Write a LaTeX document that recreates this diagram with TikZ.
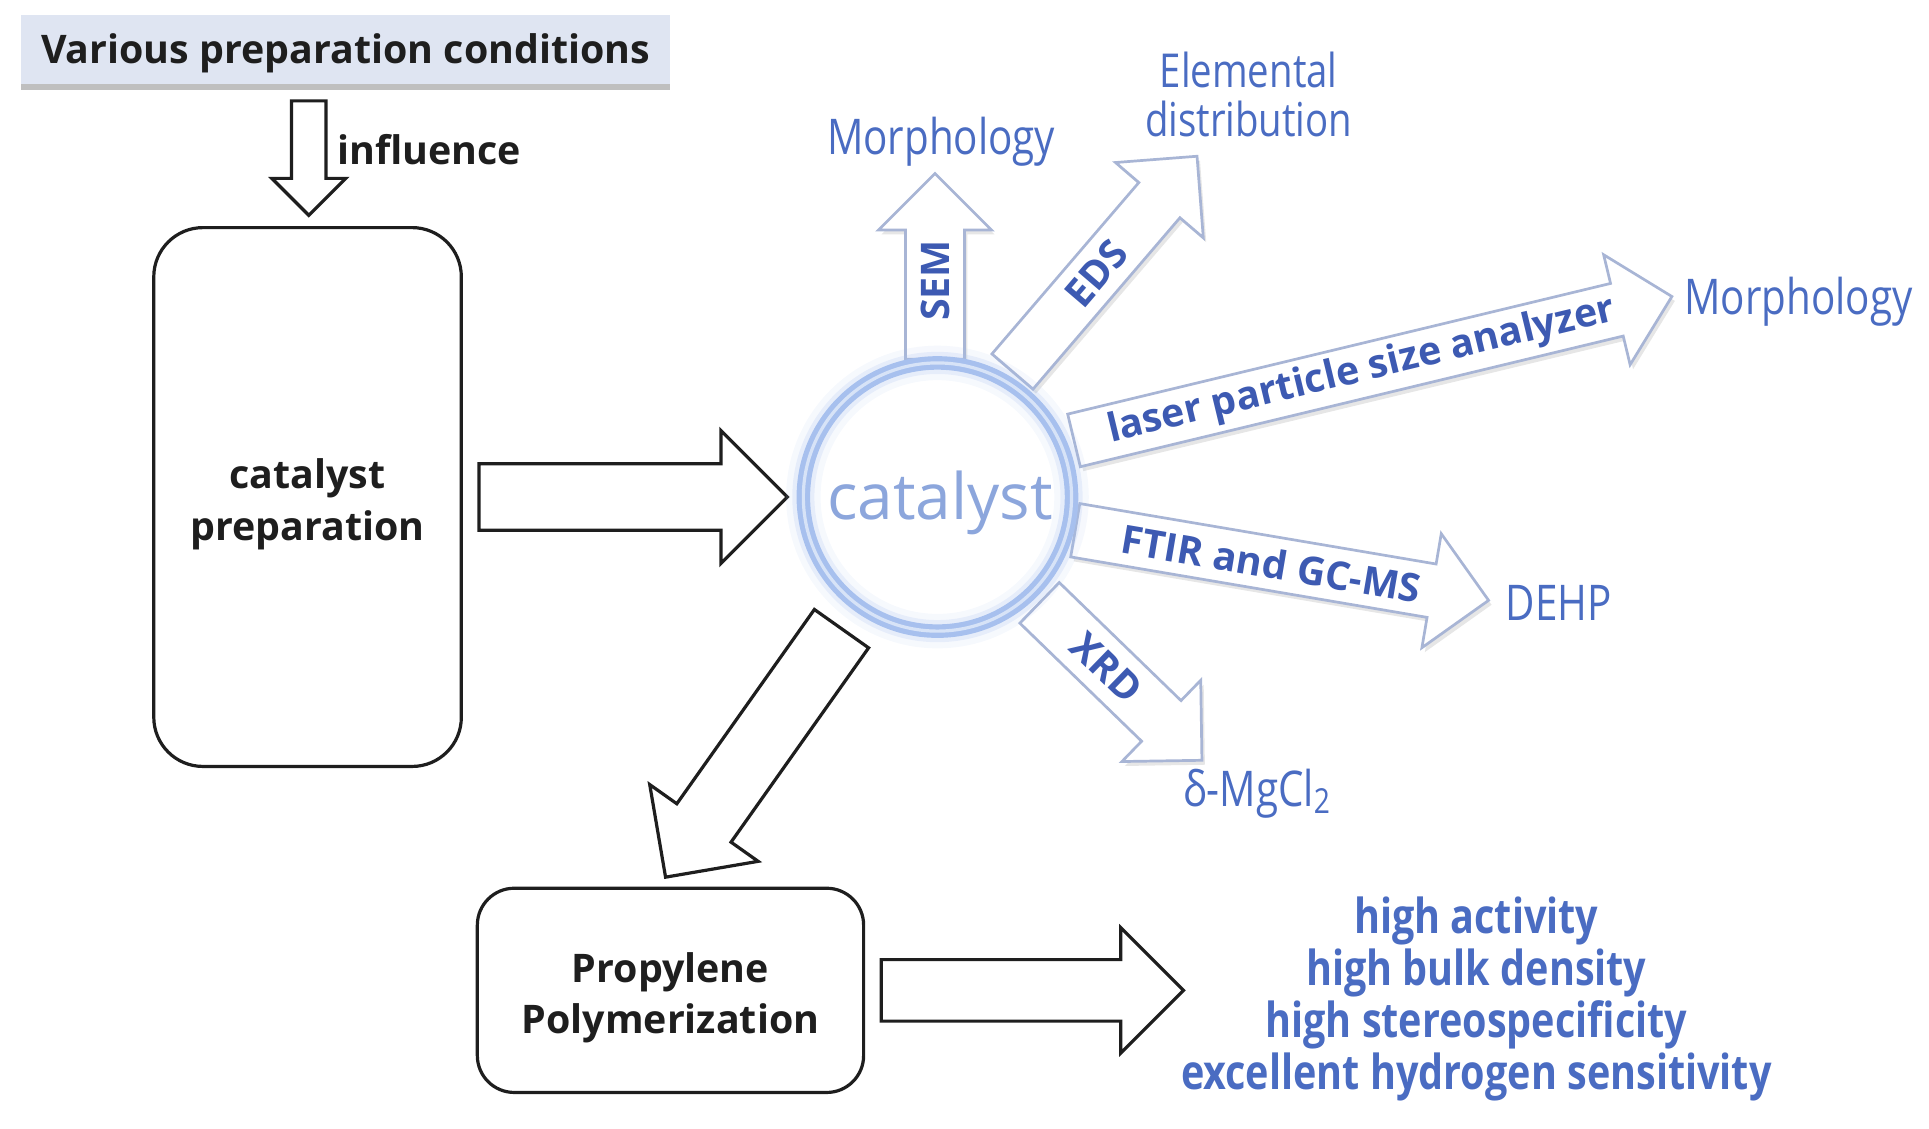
\documentclass[tikz,border=0pt]{standalone}
\usepackage{fontspec}
\setmainfont{Open Sans}
\newfontfamily\condfont[FakeStretch=0.82]{Open Sans}
\usetikzlibrary{calc,shadows}
\definecolor{boxfill}{HTML}{DFE5F2}
\definecolor{ringblue}{HTML}{A7C0EE}
\definecolor{catblue}{HTML}{8CA6DC}
\definecolor{arrline}{HTML}{A8B5D5}
\definecolor{arrtext}{HTML}{3D5AB2}
\definecolor{lblblue}{HTML}{4A6CC2}
\definecolor{ink}{HTML}{1E1E1E}
% #1 style, #2 start, #3 tip, #4 shaft half-width, #5 head half-width
\newcommand\blkarrow[5]{%
  \coordinate (ba-c) at ($(#3)!#5!(#2)$);
  \draw[#1] ($(#2)!#4!90:(#3)$) -- ($(ba-c)!#4!90:(#3)$) -- ($(ba-c)!#5!90:(#3)$)
    -- (#3) -- ($(ba-c)!#5!-90:(#3)$) -- ($(ba-c)!#4!-90:(#3)$) -- ($(#2)!#4!-90:(#3)$) -- cycle;
}
% #1 start, #2 tip, #3 head length, #4 node options, #5 text
\newcommand\arrlabel[5]{%
  \coordinate (bl-c) at ($(#2)!#3!(#1)$);
  \path (#1) -- (bl-c) node[arrtxt,#4] {#5};
}
\begin{document}
\begin{tikzpicture}[x=0.5pt,y=-0.5pt,
  blackarrow/.style={draw=ink, line width=1.3pt, fill=white, line join=miter},
  bluearrow/.style={draw=arrline, line width=1.1pt, fill=white, line join=miter,
    drop shadow={opacity=.2, shadow xshift=1.2pt, shadow yshift=-1.8pt}},
  blackbox/.style={draw=ink, line width=1.3pt, fill=white},
  blacktxt/.style={text=ink, align=center, font=\bfseries\fontsize{16}{21}\selectfont, inner sep=0pt},
  arrtxt/.style={text=arrtext, font=\bfseries\fontsize{16}{19}\selectfont, inner sep=0pt},
  lbl/.style={text=lblblue, align=center, inner sep=0pt, font=\condfont\fontsize{20}{20}\selectfont},
  reslist/.style={text=lblblue, align=center, inner sep=0pt, font=\condfont\bfseries\fontsize{19.6}{21}\selectfont}]
\useasboundingbox (0,0) rectangle (1568,917);

% top condition box
\node[fill=boxfill, minimum width=264pt, minimum height=28pt, inner sep=0pt,
  drop shadow={opacity=.5, shadow xshift=0pt, shadow yshift=-2.5pt}] (cond) at (281,40) {};
\node[blacktxt] (condtxt) at (281,43) {Various preparation conditions};

\coordinate (infS) at (251,82);
\coordinate (infT) at (251,175);
\blkarrow{blackarrow}{infS}{infT}{7pt}{15pt}
\node[blacktxt, anchor=west] (infl) at (274,122) {influence};

% catalyst preparation
\node[blackbox, rounded corners=20pt, minimum width=125pt, minimum height=219pt] (prep) at (250,404) {};
\node[blacktxt] (preptxt) at (250,410) {catalyst\\preparation};

% catalyst circle (text only; ring drawn later)
\node[circle, minimum size=110pt, inner sep=0pt] (cat) at (762,404) {};
\node[text=catblue, inner sep=0pt, font=\fontsize{26}{26}\selectfont] (cattxt) at (764,409) {catalyst};

\coordinate (prepS) at ($(prep.east)+(13,0)$);
\coordinate (prepT) at (640,404);
\blkarrow{blackarrow}{prepS}{prepT}{13.5pt}{27pt}

% characterisation arrows
\coordinate (semS) at (760,292);  \coordinate (semT) at (760,141);
\coordinate (edsS) at (823,302);  \coordinate (edsT) at (973,127);
\coordinate (lasS) at (873,358);  \coordinate (lasT) at (1359,241);
\coordinate (ftS) at (874,431);   \coordinate (ftT) at (1210,488);
\coordinate (xrS) at (845,490);   \coordinate (xrT) at (977,618);
\blkarrow{bluearrow}{semS}{semT}{12pt}{23pt}
\blkarrow{bluearrow}{edsS}{edsT}{11pt}{23.5pt}
\blkarrow{bluearrow}{lasS}{lasT}{11pt}{23pt}
\blkarrow{bluearrow}{ftS}{ftT}{11pt}{23.5pt}
\blkarrow{bluearrow}{xrS}{xrT}{11.5pt}{23pt}

\arrlabel{semS}{semT}{23pt}{pos=.61, rotate=90, name=semtxt}{SEM}
\arrlabel{edsS}{edsT}{23.5pt}{pos=.57, sloped, name=edstxt}{EDS}
\arrlabel{lasS}{lasT}{23pt}{pos=.53, sloped, name=lastxt}{laser particle size analyzer}
\arrlabel{ftS}{ftT}{23.5pt}{pos=.55, sloped, name=fttxt}{FTIR and GC-MS}
\arrlabel{xrS}{xrT}{23pt}{pos=.55, sloped, name=xrtxt}{XRD}

% ring with glow
\draw[ringblue, line width=14pt, opacity=.10] (cat.center) circle[radius=54.5pt];
\draw[ringblue, line width=9pt, opacity=.2] (cat.center) circle[radius=54.5pt];
\draw[ringblue, line width=5.5pt] (cat.center) circle[radius=54.5pt];
\draw[white!55!ringblue, line width=1.3pt] (cat.center) circle[radius=54.5pt];

% result labels
\node[lbl] (morph1) at (765,115) {Morphology};
\node[lbl, font=\condfont\fontsize{19}{20}\selectfont] (elem) at (1015,77) {Elemental\\distribution};
\node[lbl] (morph2) at (1462,245) {Morphology};
\node[lbl] (dehp) at (1267,490) {DEHP};
\node[lbl] (mgcl) at (1022,645) {δ-MgCl\textsubscript{2}};

% polymerization
\coordinate (dlS) at (684,511);
\coordinate (dlT) at (541,713);
\blkarrow{blackarrow}{dlS}{dlT}{13.5pt}{27pt}

\node[blackbox, rounded corners=15pt, minimum width=157pt, minimum height=83pt] (poly) at (545,805) {};
\node[blacktxt] (polytxt) at (545,811) {Propylene\\Polymerization};
\coordinate (polS) at ($(poly.east)+(13,0)$);
\coordinate (polT) at (962,805);
\blkarrow{blackarrow}{polS}{polT}{12.5pt}{25.5pt}

\node[reslist] (res) at (1200,812) {high activity\\high bulk density\\high stereospecificity\\excellent hydrogen sensitivity};
\end{tikzpicture}
\end{document}
